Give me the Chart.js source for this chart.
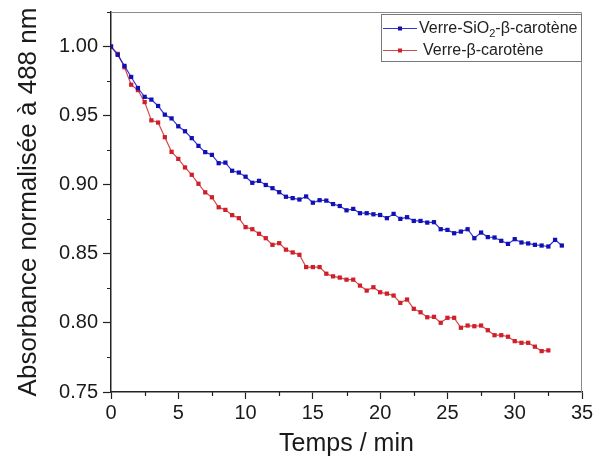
<!DOCTYPE html>
<html><head><meta charset="utf-8">
<script src="https://cdn.jsdelivr.net/npm/chart.js@4.4.1/dist/chart.umd.min.js"></script>
<style>html,body{margin:0;padding:0;background:#fff}#wrap{width:595px;height:465px}</style>
</head><body><div id="wrap"><canvas id="c" width="595" height="465"></canvas></div>
<script>
// ---- data ----
const timeSiO2 = [0,0.5,1,1.5,2,2.5,3,3.5,4,4.5,5,5.5,6,6.5,7,7.5,8,8.5,9,9.5,10,10.5,11,11.5,12,12.5,13,13.5,14,14.5,15,15.5,16,16.5,17,17.5,18,18.5,19,19.5,20,20.5,21,21.5,22,22.5,23,23.5,24,24.5,25,25.5,26,26.5,27,27.5,28,28.5,29,29.5,30,30.5,31,31.5,32,32.5,33,33.5];
const absSiO2 = [1.000,0.994,0.986,0.978,0.970,0.9636,0.9616,0.957,0.9507,0.948,0.9423,0.9387,0.9337,0.9281,0.9236,0.9216,0.9156,0.916,0.9101,0.9088,0.9058,0.9014,0.9028,0.8998,0.8975,0.8946,0.8913,0.8903,0.8893,0.8915,0.887,0.8888,0.8885,0.886,0.8846,0.8815,0.8825,0.8794,0.8794,0.8786,0.8781,0.8758,0.8789,0.8753,0.8765,0.8738,0.8738,0.8726,0.8729,0.8678,0.8673,0.8649,0.8661,0.8678,0.8613,0.8654,0.8621,0.8618,0.8594,0.8572,0.8606,0.8582,0.8575,0.8565,0.856,0.8553,0.8601,0.856];
const timeVerre = [0,0.5,1,1.5,2,2.5,3,3.5,4,4.5,5,5.5,6,6.5,7,7.5,8,8.5,9,9.5,10,10.5,11,11.5,12,12.5,13,13.5,14,14.5,15,15.5,16,16.5,17,17.5,18,18.5,19,19.5,20,20.5,21,21.5,22,22.5,23,23.5,24,24.5,25,25.5,26,26.5,27,27.5,28,28.5,29,29.5,30,30.5,31,31.5,32,32.5];
const absVerre = [1.000,0.9947,0.985,0.9724,0.9685,0.9598,0.9466,0.945,0.9344,0.9238,0.9187,0.9125,0.9072,0.9007,0.8945,0.8909,0.8837,0.8818,0.878,0.8758,0.8693,0.8678,0.8645,0.8613,0.8565,0.8577,0.853,0.851,0.8493,0.8404,0.8404,0.8404,0.8356,0.8337,0.8328,0.8313,0.8313,0.827,0.8234,0.8258,0.8222,0.8212,0.8198,0.8145,0.8169,0.8102,0.8077,0.8041,0.8044,0.8001,0.8037,0.8037,0.7965,0.7981,0.7976,0.7981,0.7947,0.7911,0.7911,0.79,0.7868,0.7856,0.7856,0.7828,0.7796,0.7801];
const xTicks = [0,5,10,15,20,25,30,35];
const yTicks = [0.75,0.80,0.85,0.90,0.95,1.00];
const seriesNames = ['Verre-SiO2-β-carotène','Verre-β-carotène'];
const xTitle = 'Temps / min';
const yTitle = 'Absorbance normalisée à 488 nm';

const FONT = "'Liberation Sans', Arial, sans-serif";
const toPts = (xs, ys) => xs.map((x, i) => ({x, y: ys[i]}));
const mids = arr => arr.slice(1).map((v, i) => (v + arr[i]) / 2);

const blueLine = 'rgba(30,30,215,0.9)', bluePt = '#1010b4';
const redLine = 'rgba(205,55,55,0.9)', redPt = '#d01e2a';

const decor = {
  id: 'decor',
  beforeDatasetsDraw(chart) {
    const {ctx, chartArea: a} = chart;
    ctx.save();
    ctx.strokeStyle = '#8c8c8c'; ctx.lineWidth = 1;
    ctx.beginPath();
    ctx.moveTo(a.left, a.top + 0.5);
    ctx.lineTo(a.right - 0.5, a.top + 0.5);
    ctx.lineTo(a.right - 0.5, a.bottom);
    ctx.stroke();
    ctx.restore();
  },
  afterDraw(chart) {
    const {ctx, chartArea: a, scales} = chart;
    ctx.save();
    ctx.strokeStyle = '#222'; ctx.lineWidth = 1.2;
    ctx.beginPath();
    mids(xTicks).forEach(v => { const p = Math.round(scales.x.getPixelForValue(v)) + 0.5; ctx.moveTo(p, a.bottom); ctx.lineTo(p, a.bottom + 4); });
    mids(yTicks).concat([1.025]).forEach(v => { const p = Math.round(scales.y.getPixelForValue(v)) + 0.5; if (p < a.top) return; ctx.moveTo(a.left, p); ctx.lineTo(a.left - 4, p); });
    ctx.stroke();
    // legend
    const bx = a.left + 270, by = a.top + 2, bw = a.right - bx, bh = 48;
    ctx.fillStyle = '#fff'; ctx.fillRect(bx, by, bw, bh);
    ctx.strokeStyle = '#7a7a7a'; ctx.lineWidth = 1;
    ctx.strokeRect(bx + 0.5, by + 0.5, bw - 1, bh - 1);
    const rows = [
      {y: by + 14, line: blueLine, pt: bluePt, tx: bx + 38},
      {y: by + 36, line: redLine, pt: redPt, tx: bx + 42}
    ];
    rows.forEach((r, i) => {
      ctx.strokeStyle = r.line; ctx.lineWidth = 1;
      ctx.beginPath(); ctx.moveTo(bx + 2, r.y + 0.5); ctx.lineTo(bx + 36, r.y + 0.5); ctx.stroke();
      ctx.fillStyle = r.pt; ctx.fillRect(bx + 17, r.y - 1.5, 4, 4);
      ctx.fillStyle = '#222'; ctx.textBaseline = 'middle'; ctx.textAlign = 'left';
      ctx.font = '16px ' + FONT;
      const name = seriesNames[i];
      const k = name.indexOf('2');
      if (i === 0 && k > 0) {
        const a1 = name.slice(0, k), a2 = name.slice(k + 1);
        let x = r.tx;
        ctx.fillText(a1, x, r.y + 1); x += ctx.measureText(a1).width;
        ctx.font = '11px ' + FONT; ctx.fillText('2', x, r.y + 6); x += ctx.measureText('2').width;
        ctx.font = '16px ' + FONT; ctx.fillText(a2, x, r.y + 1);
      } else {
        ctx.fillText(name, r.tx, r.y + 1);
      }
    });
    ctx.restore();
  }
};

new Chart(document.getElementById('c'), {
  type: 'line',
  data: {
    datasets: [
      {label: seriesNames[0], data: toPts(timeSiO2, absSiO2), borderColor: blueLine, borderWidth: 1.2,
       pointStyle: 'rect', pointRadius: 3, pointBorderWidth: 0, pointBackgroundColor: bluePt, pointBorderColor: bluePt, tension: 0},
      {label: seriesNames[1], data: toPts(timeVerre, absVerre), borderColor: redLine, borderWidth: 1.2,
       pointStyle: 'rect', pointRadius: 3, pointBorderWidth: 0, pointBackgroundColor: redPt, pointBorderColor: redPt, tension: 0}
    ]
  },
  options: {
    responsive: false, animation: false, devicePixelRatio: 1,
    layout: {padding: {top: 12, right: 13, left: 0, bottom: 0}},
    plugins: {legend: {display: false}, tooltip: {enabled: false}},
    scales: {
      x: {
        type: 'linear', min: 0, max: 35,
        afterBuildTicks: s => { s.ticks = xTicks.map(v => ({value: v})); },
        afterFit: s => { s.height = 73; s.paddingLeft = 0; s.paddingRight = 0; },
        border: {display: true, color: '#222', width: 1.5},
        grid: {display: true, drawOnChartArea: false, drawTicks: true, tickLength: 7, tickColor: '#222', tickWidth: 1.2},
        ticks: {color: '#1a1a1a', font: {family: FONT, size: 20}, padding: 2, maxRotation: 0, autoSkip: false},
        title: {display: true, text: xTitle, color: '#1a1a1a', font: {family: FONT, size: 25}, padding: {top: 0, bottom: 6}}
      },
      y: {
        type: 'linear', min: 0.75, max: 1.025,
        afterBuildTicks: s => { s.ticks = yTicks.map(v => ({value: v})); },
        afterFit: s => { s.width = 111; s.paddingTop = 0; s.paddingBottom = 0; },
        border: {display: true, color: '#222', width: 1.5},
        grid: {display: true, drawOnChartArea: false, drawTicks: true, tickLength: 8, tickColor: '#222', tickWidth: 1.2},
        ticks: {color: '#1a1a1a', font: {family: FONT, size: 20}, padding: 5, autoSkip: false, callback: v => Number(v).toFixed(2)},
        title: {display: true, text: yTitle, color: '#1a1a1a', font: {family: FONT, size: 26}, padding: {top: 13, bottom: 0}}
      }
    }
  },
  plugins: [decor]
});
</script></body></html>
